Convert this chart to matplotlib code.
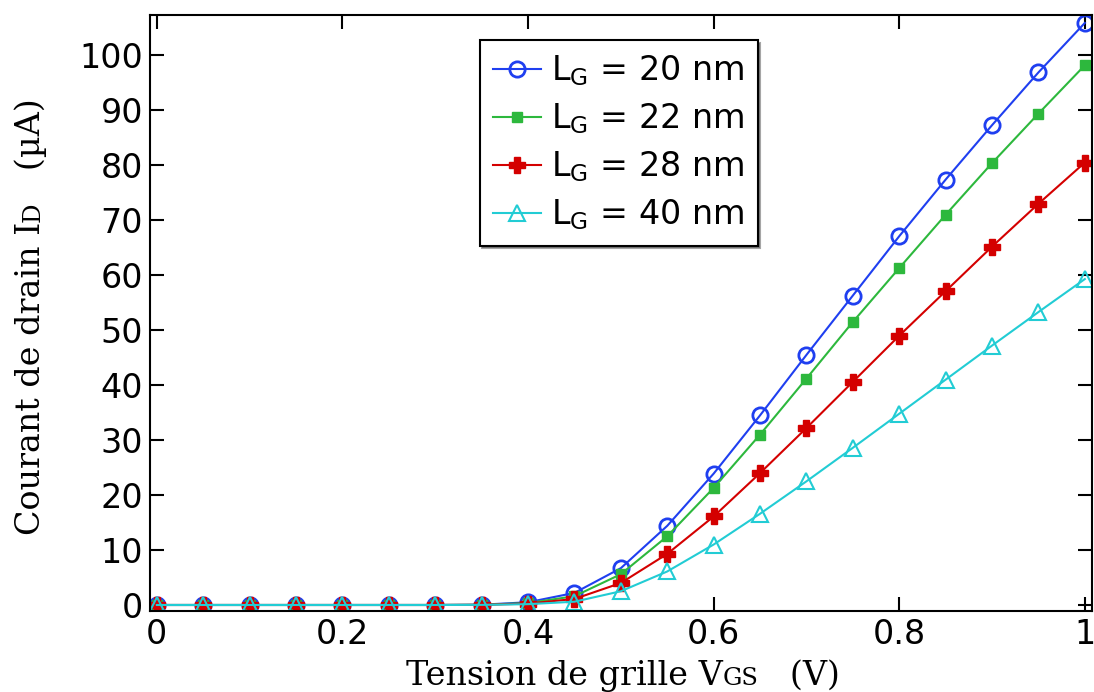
import matplotlib.pyplot as plt
from matplotlib.transforms import IdentityTransform

plt.rcParams['mathtext.fontset'] = 'dejavusans'

# gate voltage (V)
vgs = [0.0, 0.05, 0.1, 0.15, 0.2, 0.25, 0.3, 0.35, 0.4, 0.45, 0.5,
       0.55, 0.6, 0.65, 0.7, 0.75, 0.8, 0.85, 0.9, 0.95, 1.0]

# drain current (uA) per gate length
id_20nm = [0, 0, 0, 0, 0, 0, 0, 0.05, 0.5, 2.2, 6.7,
           14.4, 23.9, 34.5, 45.5, 56.3, 67.1, 77.4, 87.3, 96.9, 105.9]
id_22nm = [0, 0, 0, 0, 0, 0, 0, 0.04, 0.35, 1.6, 5.6,
           12.5, 21.3, 31.0, 41.2, 51.5, 61.3, 71.0, 80.4, 89.4, 98.2]
id_28nm = [0, 0, 0, 0, 0, 0, 0, 0.03, 0.25, 1.1, 4.0,
           9.3, 16.1, 24.0, 32.2, 40.6, 49.0, 57.1, 65.2, 73.0, 80.5]
id_40nm = [0, 0, 0, 0, 0, 0, 0, 0.02, 0.15, 0.6, 2.5,
           6.1, 11.0, 16.6, 22.5, 28.6, 34.8, 41.0, 47.2, 53.3, 59.3]

labels = ['L$_\\mathrm{G}$ = 20 nm', 'L$_\\mathrm{G}$ = 22 nm',
          'L$_\\mathrm{G}$ = 28 nm', 'L$_\\mathrm{G}$ = 40 nm']

# axis labels as (text, size) pieces: subscripts drawn as small caps on baseline
xlabel_parts = [('Tension de grille V', 24), ('GS', 17.5), ('   (V)', 24)]
ylabel_parts = [('Courant de drain I', 24), ('D', 17.5), ('   (\u00b5A)', 24)]

fig = plt.figure(figsize=(10.94, 6.92), dpi=100)
ax = fig.add_axes([0.137, 0.117, 0.861, 0.861])

ax.plot(vgs, id_20nm, color='#1f3ff0', lw=1.5, marker='o', ms=11,
        mfc='none', mew=2, label=labels[0])
ax.plot(vgs, id_22nm, color='#2db83d', lw=1.5, marker='s', ms=6.5,
        label=labels[1])
ax.plot(vgs, id_28nm, color='#d40000', lw=1.5, marker='P', ms=11,
        label=labels[2])
ax.plot(vgs, id_40nm, color='#22ccd4', lw=1.5, marker='^', ms=11,
        mfc='none', mew=1.5, label=labels[3])

ax.set_xlim(-0.0075, 1.0075)
ax.set_ylim(-1.1, 107.3)
ax.set_xticks([0, 0.2, 0.4, 0.6, 0.8, 1])
ax.set_xticklabels(['0', '0.2', '0.4', '0.6', '0.8', '1'])
ax.set_yticks(range(0, 101, 10))
ax.tick_params(direction='in', top=True, right=True, labelsize=24,
               length=10, width=1.5, pad=5)
for s in ax.spines.values():
    s.set_linewidth(1.5)

leg = ax.legend(loc='upper left', bbox_to_anchor=(0.35, 0.958), fontsize=24,
                fancybox=False, shadow=True, framealpha=1, edgecolor='black',
                handlelength=1.45, borderpad=0.4, labelspacing=0.4,
                handletextpad=0.3, borderaxespad=0)
leg.get_frame().set_linewidth(1.5)


def place_parts(parts, x, y, vertical=False):
    # lay text pieces end to end along the baseline, centred on (x, y) in pixels
    fig.canvas.draw()
    r = fig.canvas.get_renderer()
    texts = []
    for s, size in parts:
        t = fig.text(0, 0, s, fontsize=size, family='DejaVu Serif',
                     ha='left', va='baseline', transform=IdentityTransform(),
                     rotation=90 if vertical else 0, rotation_mode='anchor')
        texts.append(t)
    lens = []
    for t in texts:
        bb = t.get_window_extent(r)
        lens.append(bb.height if vertical else bb.width)
    pos = -sum(lens) / 2
    for t, l in zip(texts, lens):
        if vertical:
            t.set_position((x, y + pos))
        else:
            t.set_position((x + pos, y))
        pos += l


place_parts(xlabel_parts, 623, 692 - 685)
place_parts(ylabel_parts, 40, 692 - 317, vertical=True)

fig.savefig('out.png', dpi=100)
